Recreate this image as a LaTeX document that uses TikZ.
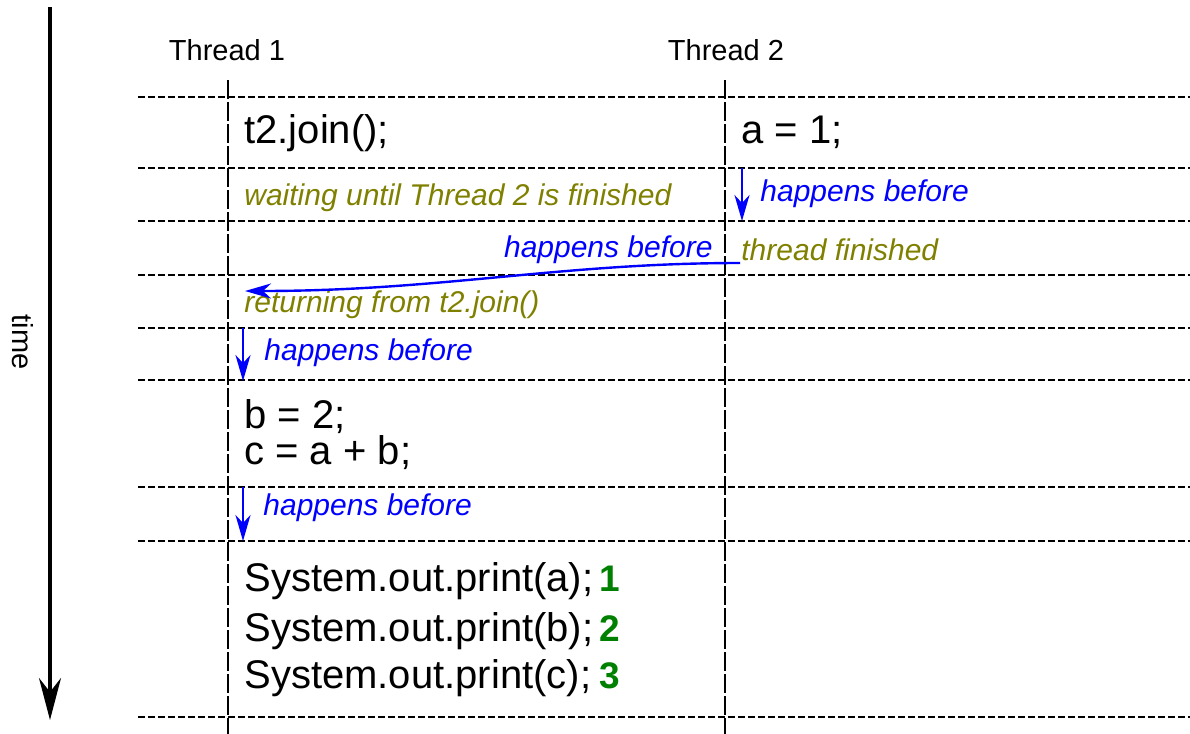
\documentclass[tikz,border=0pt]{standalone}
\usepackage{fontspec}
\setmainfont{Liberation Sans}
\usepackage{xcolor}
\usetikzlibrary{positioning,arrows.meta,calc}
\definecolor{waitcol}{rgb}{0.5,0.5,0}
\definecolor{numcol}{rgb}{0,0.5,0}
\tikzset{
  grid/.style={line width=1.2pt, dash pattern=on 3.5pt off 1.5pt},
  lane/.style={line width=1.2pt, dash pattern=on 9.5pt off 1.5pt},
  code/.style={inner sep=0pt, anchor=base west, font=\fontsize{20}{24}\selectfont},
  note/.style={inner sep=0pt, anchor=base west, font=\fontsize{15}{17}\selectfont\itshape, text=waitcol},
  hb/.style={inner sep=0pt, anchor=base west, font=\fontsize{15}{17}\selectfont\itshape, text=blue},
  num/.style={inner sep=0pt, anchor=base west, font=\fontsize{18.5}{20}\selectfont\bfseries, text=numcol},
  title/.style={inner sep=0pt, anchor=base, font=\fontsize{14.5}{17}\selectfont},
  hbarrow/.style={blue, line width=1.2pt, -{Stealth[length=13pt,width=7.5pt,inset=4pt]}}
}
\begin{document}
\begin{tikzpicture}[x=0.5pt,y=-0.5pt]
      \useasboundingbox (0,0) rectangle (1190,734);

      \coordinate (t0) at (50,7);
      \coordinate (t1) at (50,720);
      \draw[line width=1.6pt,-{Stealth[length=21pt,width=11pt,inset=7pt]}] (t0) -- (t1);
      \node[rotate=-90, inner sep=0pt, font=\fontsize{14.5}{17}\selectfont] (time) at (23,342) {time};

      \node[title] (th1) at (227,60) {Thread 1};
      \node[title] (th2) at (726,60) {Thread 2};

      \draw[lane] (228,80) -- (228,734);
      \draw[lane] (725,80) -- (725,734);

      \draw[grid] (138,97) -- (1190,97);
      \draw[grid] (138,168) -- (1190,168);
      \draw[grid] (138,221) -- (1190,221);
      \draw[grid] (138,275) -- (1190,275);
      \draw[grid] (138,328) -- (1190,328);
      \draw[grid] (138,380) -- (1190,380);
      \draw[grid] (138,487) -- (1190,487);
      \draw[grid] (138,541) -- (1190,541);
      \draw[grid] (138,717) -- (1190,717);

      \node[code] (join) at (244,143) {t2.join();};
      \node[code] (a1) at (741,143) {a = 1;};
      \node[note] (wait) at (244,205) {waiting until Thread 2 is finished};
      \node[hb] (hb1) at (760,201) {happens before};
      \node[hb, anchor=base east] (hb2) at (713,257) {happens before};
      \node[note] (fin) at (741,260) {thread finished};
      \node[note] (ret) at (244,312) {returning from t2.join()};
      \node[hb] (hb3) at (264,360) {happens before};
      \node[code, anchor=north west, align=left, font=\fontsize{20}{16}\selectfont] (bc) at (244,399) {b = 2;\\c = a + b;};
      \node[hb] (hb4) at (263,515) {happens before};
      \node[code] (pa) at (244,591) {System.out.print(a);};
      \node[code] (pb) at (244,641) {System.out.print(b);};
      \node[code] (pc) at (244,688) {System.out.print(c);};
      \node[num] (n1) at (599,591) {1};
      \node[num] (n2) at (599,641) {2};
      \node[num] (n3) at (599,688) {3};

      \coordinate (s1) at (742,168);
      \coordinate (e1) at (742,221);
      \coordinate (s2) at (740,263);
      \coordinate (e2) at (245,291);
      \coordinate (s3) at (243,328);
      \coordinate (e3) at (243,381);
      \coordinate (s4) at (243,487);
      \coordinate (e4) at (243,541);

      \draw[hbarrow] (s1) -- (e1);
      \draw[hbarrow] (s2) .. controls (560,263) and (440,291) .. (e2);
      \draw[hbarrow] (s3) -- (e3);
      \draw[hbarrow] (s4) -- (e4);

    \end{tikzpicture}
\end{document}
